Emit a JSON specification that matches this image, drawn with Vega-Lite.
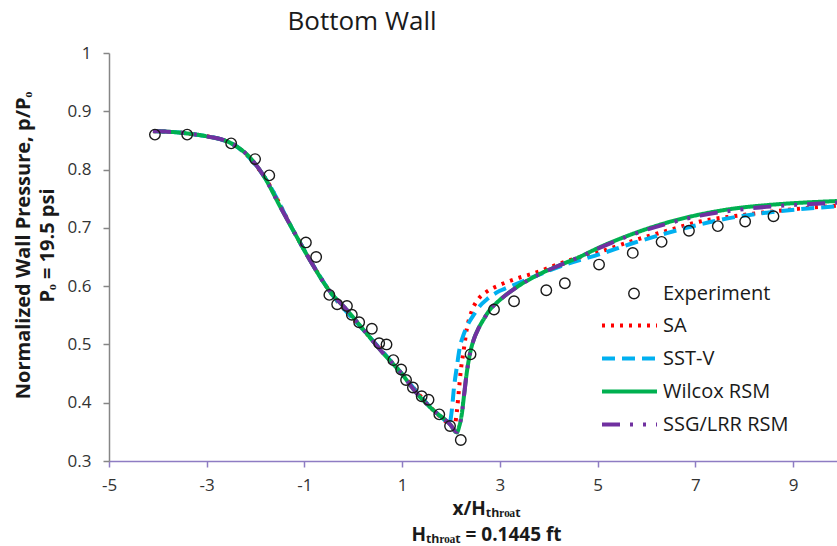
{
  "$schema": "https://vega.github.io/schema/vega-lite/v6.json",
  "width": 728,
  "height": 408,
  "autosize": {"type": "none"},
  "padding": {"left": 109, "top": 53, "right": 0, "bottom": 85},
  "background": "white",
  "title": {
    "text": "Bottom Wall",
    "anchor": "middle",
    "frame": "group",
    "dx": -111,
    "offset": 9,
    "font": "Open Sans",
    "fontSize": 26,
    "fontWeight": "normal",
    "color": "#1a1a1a"
  },
  "config": {
    "view": {"stroke": null},
    "axis": {
      "grid": false,
      "labelFont": "Open Sans",
      "labelFontSize": 17,
      "labelColor": "#333333",
      "titleFont": "Open Sans",
      "titleFontWeight": "bold",
      "titleColor": "#1a1a1a",
      "tickSize": 6
    },
    "legend": {
      "orient": "none",
      "labelFont": "Open Sans",
      "labelFontSize": 20,
      "labelColor": "#1a1a1a",
      "rowPadding": 0,
      "padding": 0
    }
  },
  "datasets": {
    "experiment": [
      {"series": "Experiment", "x": -4.06, "p": 0.860},
      {"series": "Experiment", "x": -3.40, "p": 0.860},
      {"series": "Experiment", "x": -2.50, "p": 0.845},
      {"series": "Experiment", "x": -2.01, "p": 0.818},
      {"series": "Experiment", "x": -1.72, "p": 0.790},
      {"series": "Experiment", "x": -0.97, "p": 0.675},
      {"series": "Experiment", "x": -0.76, "p": 0.650},
      {"series": "Experiment", "x": -0.49, "p": 0.585},
      {"series": "Experiment", "x": -0.33, "p": 0.569},
      {"series": "Experiment", "x": -0.13, "p": 0.566},
      {"series": "Experiment", "x": -0.03, "p": 0.551},
      {"series": "Experiment", "x": 0.12, "p": 0.538},
      {"series": "Experiment", "x": 0.38, "p": 0.527},
      {"series": "Experiment", "x": 0.53, "p": 0.502},
      {"series": "Experiment", "x": 0.68, "p": 0.500},
      {"series": "Experiment", "x": 0.82, "p": 0.473},
      {"series": "Experiment", "x": 0.98, "p": 0.457},
      {"series": "Experiment", "x": 1.08, "p": 0.439},
      {"series": "Experiment", "x": 1.22, "p": 0.426},
      {"series": "Experiment", "x": 1.40, "p": 0.411},
      {"series": "Experiment", "x": 1.54, "p": 0.405},
      {"series": "Experiment", "x": 1.76, "p": 0.380},
      {"series": "Experiment", "x": 1.98, "p": 0.360},
      {"series": "Experiment", "x": 2.20, "p": 0.336},
      {"series": "Experiment", "x": 2.40, "p": 0.483},
      {"series": "Experiment", "x": 2.88, "p": 0.560},
      {"series": "Experiment", "x": 3.29, "p": 0.574},
      {"series": "Experiment", "x": 3.95, "p": 0.593},
      {"series": "Experiment", "x": 4.33, "p": 0.605},
      {"series": "Experiment", "x": 5.03, "p": 0.637},
      {"series": "Experiment", "x": 5.72, "p": 0.657},
      {"series": "Experiment", "x": 6.31, "p": 0.676},
      {"series": "Experiment", "x": 6.87, "p": 0.695},
      {"series": "Experiment", "x": 7.46, "p": 0.703},
      {"series": "Experiment", "x": 8.02, "p": 0.711},
      {"series": "Experiment", "x": 8.60, "p": 0.720}
    ],
    "models": [
      {"model": "SA", "x": -4.10, "p": 0.866},
      {"model": "SA", "x": -3.40, "p": 0.862},
      {"model": "SA", "x": -2.52, "p": 0.846},
      {"model": "SA", "x": -1.84, "p": 0.790},
      {"model": "SA", "x": -1.16, "p": 0.685},
      {"model": "SA", "x": -0.48, "p": 0.591},
      {"model": "SA", "x": 0.27, "p": 0.519},
      {"model": "SA", "x": 0.96, "p": 0.453},
      {"model": "SA", "x": 1.64, "p": 0.387},
      {"model": "SA", "x": 1.98, "p": 0.362},
      {"model": "SA", "x": 2.05, "p": 0.358},
      {"model": "SA", "x": 2.09, "p": 0.366},
      {"model": "SA", "x": 2.12, "p": 0.385},
      {"model": "SA", "x": 2.16, "p": 0.420},
      {"model": "SA", "x": 2.20, "p": 0.455},
      {"model": "SA", "x": 2.26, "p": 0.490},
      {"model": "SA", "x": 2.32, "p": 0.525},
      {"model": "SA", "x": 2.42, "p": 0.556},
      {"model": "SA", "x": 2.56, "p": 0.578},
      {"model": "SA", "x": 2.72, "p": 0.590},
      {"model": "SA", "x": 3.00, "p": 0.602},
      {"model": "SA", "x": 3.34, "p": 0.613},
      {"model": "SA", "x": 3.69, "p": 0.622},
      {"model": "SA", "x": 4.37, "p": 0.643},
      {"model": "SA", "x": 5.05, "p": 0.659},
      {"model": "SA", "x": 5.73, "p": 0.678},
      {"model": "SA", "x": 6.42, "p": 0.695},
      {"model": "SA", "x": 7.10, "p": 0.711},
      {"model": "SA", "x": 7.78, "p": 0.720},
      {"model": "SA", "x": 8.46, "p": 0.727},
      {"model": "SA", "x": 9.14, "p": 0.733},
      {"model": "SA", "x": 9.90, "p": 0.738},

      {"model": "SST-V", "x": -4.10, "p": 0.866},
      {"model": "SST-V", "x": -3.40, "p": 0.862},
      {"model": "SST-V", "x": -2.52, "p": 0.846},
      {"model": "SST-V", "x": -1.84, "p": 0.790},
      {"model": "SST-V", "x": -1.16, "p": 0.685},
      {"model": "SST-V", "x": -0.48, "p": 0.591},
      {"model": "SST-V", "x": 0.27, "p": 0.519},
      {"model": "SST-V", "x": 0.96, "p": 0.453},
      {"model": "SST-V", "x": 1.64, "p": 0.387},
      {"model": "SST-V", "x": 1.90, "p": 0.368},
      {"model": "SST-V", "x": 1.95, "p": 0.364},
      {"model": "SST-V", "x": 1.99, "p": 0.371},
      {"model": "SST-V", "x": 2.02, "p": 0.390},
      {"model": "SST-V", "x": 2.06, "p": 0.425},
      {"model": "SST-V", "x": 2.12, "p": 0.462},
      {"model": "SST-V", "x": 2.18, "p": 0.495},
      {"model": "SST-V", "x": 2.25, "p": 0.515},
      {"model": "SST-V", "x": 2.35, "p": 0.535},
      {"model": "SST-V", "x": 2.46, "p": 0.550},
      {"model": "SST-V", "x": 2.59, "p": 0.566},
      {"model": "SST-V", "x": 2.73, "p": 0.577},
      {"model": "SST-V", "x": 3.00, "p": 0.592},
      {"model": "SST-V", "x": 3.14, "p": 0.597},
      {"model": "SST-V", "x": 3.69, "p": 0.616},
      {"model": "SST-V", "x": 4.37, "p": 0.638},
      {"model": "SST-V", "x": 5.05, "p": 0.655},
      {"model": "SST-V", "x": 5.73, "p": 0.674},
      {"model": "SST-V", "x": 6.42, "p": 0.691},
      {"model": "SST-V", "x": 7.10, "p": 0.706},
      {"model": "SST-V", "x": 7.78, "p": 0.718},
      {"model": "SST-V", "x": 8.46, "p": 0.726},
      {"model": "SST-V", "x": 9.14, "p": 0.732},
      {"model": "SST-V", "x": 9.90, "p": 0.737},

      {"model": "Wilcox RSM", "x": -4.10, "p": 0.866},
      {"model": "Wilcox RSM", "x": -3.80, "p": 0.865},
      {"model": "Wilcox RSM", "x": -3.40, "p": 0.862},
      {"model": "Wilcox RSM", "x": -3.00, "p": 0.857},
      {"model": "Wilcox RSM", "x": -2.52, "p": 0.846},
      {"model": "Wilcox RSM", "x": -2.11, "p": 0.820},
      {"model": "Wilcox RSM", "x": -1.84, "p": 0.790},
      {"model": "Wilcox RSM", "x": -1.50, "p": 0.737},
      {"model": "Wilcox RSM", "x": -1.16, "p": 0.685},
      {"model": "Wilcox RSM", "x": -0.89, "p": 0.645},
      {"model": "Wilcox RSM", "x": -0.48, "p": 0.591},
      {"model": "Wilcox RSM", "x": -0.13, "p": 0.559},
      {"model": "Wilcox RSM", "x": 0.27, "p": 0.519},
      {"model": "Wilcox RSM", "x": 0.61, "p": 0.485},
      {"model": "Wilcox RSM", "x": 0.96, "p": 0.453},
      {"model": "Wilcox RSM", "x": 1.30, "p": 0.416},
      {"model": "Wilcox RSM", "x": 1.64, "p": 0.387},
      {"model": "Wilcox RSM", "x": 1.98, "p": 0.363},
      {"model": "Wilcox RSM", "x": 2.12, "p": 0.349},
      {"model": "Wilcox RSM", "x": 2.17, "p": 0.360},
      {"model": "Wilcox RSM", "x": 2.22, "p": 0.380},
      {"model": "Wilcox RSM", "x": 2.27, "p": 0.415},
      {"model": "Wilcox RSM", "x": 2.32, "p": 0.450},
      {"model": "Wilcox RSM", "x": 2.39, "p": 0.485},
      {"model": "Wilcox RSM", "x": 2.46, "p": 0.507},
      {"model": "Wilcox RSM", "x": 2.56, "p": 0.527},
      {"model": "Wilcox RSM", "x": 2.66, "p": 0.542},
      {"model": "Wilcox RSM", "x": 2.80, "p": 0.560},
      {"model": "Wilcox RSM", "x": 2.93, "p": 0.571},
      {"model": "Wilcox RSM", "x": 3.34, "p": 0.598},
      {"model": "Wilcox RSM", "x": 3.82, "p": 0.621},
      {"model": "Wilcox RSM", "x": 4.23, "p": 0.636},
      {"model": "Wilcox RSM", "x": 4.60, "p": 0.649},
      {"model": "Wilcox RSM", "x": 5.05, "p": 0.667},
      {"model": "Wilcox RSM", "x": 5.73, "p": 0.690},
      {"model": "Wilcox RSM", "x": 6.42, "p": 0.709},
      {"model": "Wilcox RSM", "x": 7.10, "p": 0.723},
      {"model": "Wilcox RSM", "x": 7.78, "p": 0.733},
      {"model": "Wilcox RSM", "x": 8.46, "p": 0.739},
      {"model": "Wilcox RSM", "x": 9.14, "p": 0.743},
      {"model": "Wilcox RSM", "x": 9.90, "p": 0.746},

      {"model": "SSG/LRR RSM", "x": -4.10, "p": 0.866},
      {"model": "SSG/LRR RSM", "x": -3.80, "p": 0.865},
      {"model": "SSG/LRR RSM", "x": -3.40, "p": 0.862},
      {"model": "SSG/LRR RSM", "x": -3.00, "p": 0.857},
      {"model": "SSG/LRR RSM", "x": -2.52, "p": 0.846},
      {"model": "SSG/LRR RSM", "x": -2.11, "p": 0.820},
      {"model": "SSG/LRR RSM", "x": -1.84, "p": 0.790},
      {"model": "SSG/LRR RSM", "x": -1.50, "p": 0.737},
      {"model": "SSG/LRR RSM", "x": -1.16, "p": 0.685},
      {"model": "SSG/LRR RSM", "x": -0.89, "p": 0.645},
      {"model": "SSG/LRR RSM", "x": -0.48, "p": 0.591},
      {"model": "SSG/LRR RSM", "x": -0.13, "p": 0.559},
      {"model": "SSG/LRR RSM", "x": 0.27, "p": 0.519},
      {"model": "SSG/LRR RSM", "x": 0.61, "p": 0.485},
      {"model": "SSG/LRR RSM", "x": 0.96, "p": 0.453},
      {"model": "SSG/LRR RSM", "x": 1.30, "p": 0.416},
      {"model": "SSG/LRR RSM", "x": 1.64, "p": 0.387},
      {"model": "SSG/LRR RSM", "x": 1.98, "p": 0.363},
      {"model": "SSG/LRR RSM", "x": 2.12, "p": 0.350},
      {"model": "SSG/LRR RSM", "x": 2.17, "p": 0.360},
      {"model": "SSG/LRR RSM", "x": 2.22, "p": 0.380},
      {"model": "SSG/LRR RSM", "x": 2.27, "p": 0.415},
      {"model": "SSG/LRR RSM", "x": 2.32, "p": 0.450},
      {"model": "SSG/LRR RSM", "x": 2.39, "p": 0.485},
      {"model": "SSG/LRR RSM", "x": 2.46, "p": 0.507},
      {"model": "SSG/LRR RSM", "x": 2.56, "p": 0.527},
      {"model": "SSG/LRR RSM", "x": 2.66, "p": 0.542},
      {"model": "SSG/LRR RSM", "x": 2.80, "p": 0.560},
      {"model": "SSG/LRR RSM", "x": 2.93, "p": 0.571},
      {"model": "SSG/LRR RSM", "x": 3.34, "p": 0.598},
      {"model": "SSG/LRR RSM", "x": 3.82, "p": 0.621},
      {"model": "SSG/LRR RSM", "x": 4.23, "p": 0.636},
      {"model": "SSG/LRR RSM", "x": 4.60, "p": 0.649},
      {"model": "SSG/LRR RSM", "x": 5.05, "p": 0.666},
      {"model": "SSG/LRR RSM", "x": 5.73, "p": 0.689},
      {"model": "SSG/LRR RSM", "x": 6.42, "p": 0.707},
      {"model": "SSG/LRR RSM", "x": 7.10, "p": 0.721},
      {"model": "SSG/LRR RSM", "x": 7.78, "p": 0.730},
      {"model": "SSG/LRR RSM", "x": 8.46, "p": 0.736},
      {"model": "SSG/LRR RSM", "x": 9.14, "p": 0.740},
      {"model": "SSG/LRR RSM", "x": 9.90, "p": 0.743}
    ]
  },
  "layer": [
    {
      "data": {"name": "models"},
      "mark": {"type": "line", "strokeWidth": 4, "strokeCap": "butt", "interpolate": "monotone"},
      "encoding": {
        "x": {
          "field": "x",
          "type": "quantitative",
          "scale": {"domain": [-5, 9.9], "nice": false, "zero": false},
          "axis": {
            "values": [-5, -3, -1, 1, 3, 5, 7, 9],
            "labelExpr": "datum.value < 0 ? '-' + abs(datum.value) : '' + datum.value",
            "domainColor": "#8e7cc3",
            "domainWidth": 1.5,
            "tickColor": "#8e7cc3",
            "tickWidth": 1.5,
            "labelPadding": 10,
            "labelFlush": false,
            "title": ["x/Hₜₕᵣₒₐₜ", "Hₜₕᵣₒₐₜ = 0.1445 ft"],
            "titleFontSize": 19,
            "titleLineHeight": 26,
            "titleBaseline": "alphabetic",
            "titleAnchor": "start",
            "titleAlign": "center",
            "titleX": 377,
            "titleY": 53
          }
        },
        "y": {
          "field": "p",
          "type": "quantitative",
          "scale": {"domain": [0.3, 1], "nice": false, "zero": false},
          "axis": {
            "values": [0.3, 0.4, 0.5, 0.6, 0.7, 0.8, 0.9, 1],
            "format": "~g",
            "domainColor": "#868686",
            "domainWidth": 1.5,
            "tickColor": "#868686",
            "tickWidth": 1.5,
            "labelPadding": 12,
            "labelFlush": false,
            "title": ["Normalized  Wall Pressure, p/Pₒ", "Pₒ = 19.5 psi"],
            "titleFontSize": 20,
            "titleLineHeight": 24,
            "titleAngle": -90,
            "titleBaseline": "middle",
            "titleAlign": "center",
            "titleAnchor": "start",
            "titleX": -86,
            "titleY": 192
          }
        },
        "color": {
          "field": "model",
          "type": "nominal",
          "scale": {
            "domain": ["SA", "SST-V", "Wilcox RSM", "SSG/LRR RSM"],
            "range": ["#ff0000", "#00b0f0", "#00b050", "#7030a0"]
          },
          "legend": {
            "title": null,
            "symbolType": "stroke",
            "symbolSize": 3025,
            "symbolStrokeWidth": 4,
            "clipHeight": 33,
            "labelOffset": 4,
            "legendX": 491,
            "legendY": 256
          }
        },
        "strokeDash": {
          "field": "model",
          "type": "nominal",
          "scale": {
            "domain": ["SA", "SST-V", "Wilcox RSM", "SSG/LRR RSM"],
            "range": [[3, 6], [13, 7], [1, 0], [18, 10, 3, 10, 3, 10]]
          },
          "legend": {
            "title": null,
            "symbolType": "stroke",
            "symbolSize": 3025,
            "symbolStrokeWidth": 4,
            "clipHeight": 33,
            "labelOffset": 4,
            "legendX": 491,
            "legendY": 256
          }
        }
      }
    },
    {
      "data": {"name": "experiment"},
      "mark": {"type": "point", "filled": false, "size": 110, "strokeWidth": 1.4, "color": "#1a1a1a", "opacity": 1},
      "encoding": {
        "x": {"field": "x", "type": "quantitative"},
        "y": {"field": "p", "type": "quantitative"},
        "shape": {
          "field": "series",
          "type": "nominal",
          "scale": {"domain": ["Experiment"], "range": ["circle"]},
          "legend": {
            "title": null,
            "symbolSize": 110,
            "symbolStrokeWidth": 1.4,
            "symbolStrokeColor": "#1a1a1a",
            "symbolFillColor": "transparent",
            "symbolOpacity": 1,
            "clipHeight": 33,
            "labelOffset": 19,
            "legendX": 515,
            "legendY": 224
          }
        }
      }
    }
  ]
}
